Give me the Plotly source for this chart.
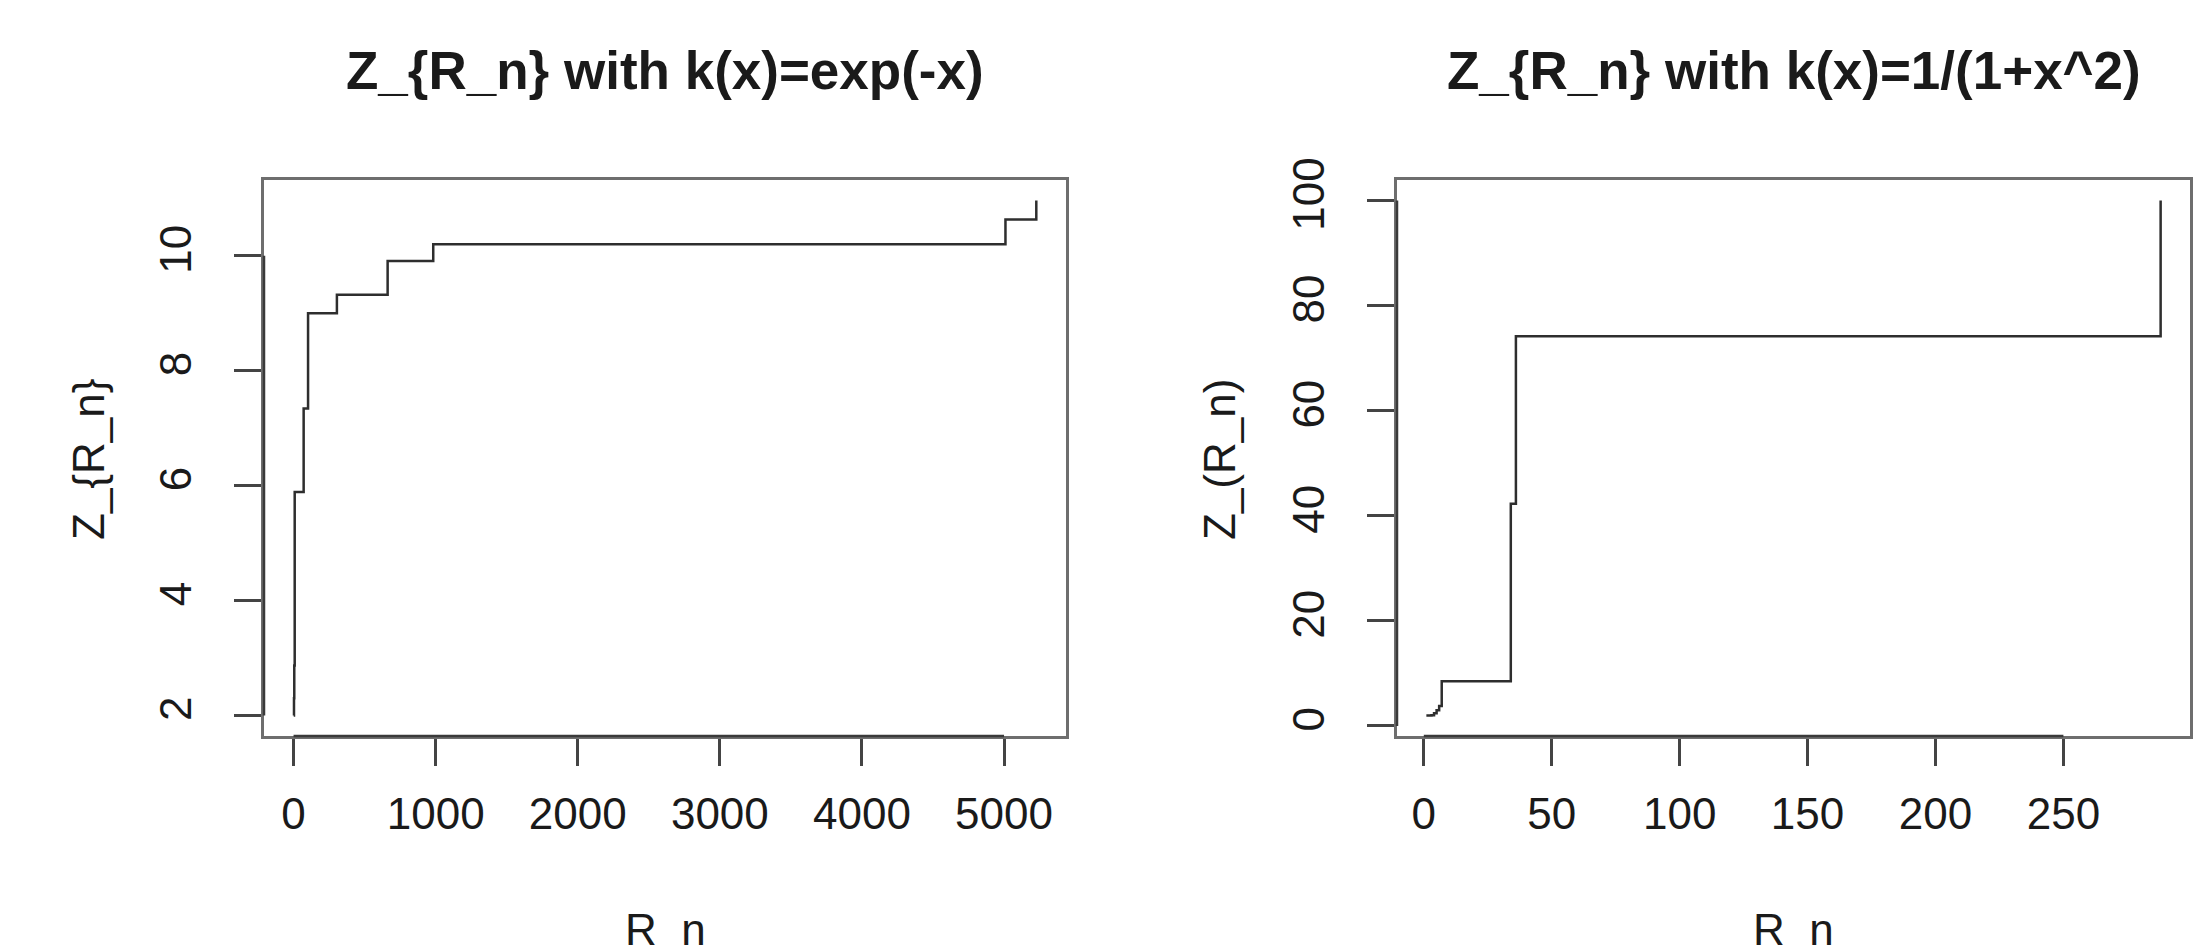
import plotly.graph_objects as go

# ---- data ----
left_x = [1, 3, 5, 8, 71, 102, 305, 662, 983, 5010, 5227]
left_y = [2.0, 2.3, 2.87, 5.89, 7.34, 9.0, 9.32, 9.91, 10.2, 10.63, 10.96]

right_x = [1, 3, 4, 5, 6, 7, 34, 36, 288]
right_y = [2.0, 2.05, 2.4, 3.0, 3.8, 8.5, 42.3, 74.2, 100.0]

left_xticks = [0, 1000, 2000, 3000, 4000, 5000]
left_yticks = [2, 4, 6, 8, 10]
right_xticks = [0, 50, 100, 150, 200, 250]
right_yticks = [0, 20, 40, 60, 80, 100]

left_title = "Z_{R_n} with k(x)=exp(-x)"
right_title = "Z_{R_n} with k(x)=1/(1+x^2)"
left_ylabel = "Z_{R_n}"
right_ylabel = "Z_(R_n)"
xlabel = "R_n"


def rrange(v):
    lo, hi = min(v), max(v)
    d = (hi - lo) * 0.04
    return [lo - d, hi + d]


W, H = 2202, 945
OFF = 8  # page body margin offset


def px(X):
    return (X - OFF) / W


def py(Y):
    return 1 - (Y - OFF) / H


FONT = "Liberation Sans, Arial, Helvetica, sans-serif"
TXT = "#1a1a1a"
BOX = "#6e6e6e"
LINE = "#2e2e2e"

fig = go.Figure()
fig.add_trace(go.Scatter(x=left_x, y=left_y, mode="lines", line_shape="hv",
                         line=dict(color=LINE, width=2.5), xaxis="x", yaxis="y",
                         showlegend=False, hoverinfo="x+y"))
fig.add_trace(go.Scatter(x=right_x, y=right_y, mode="lines", line_shape="hv",
                         line=dict(color=LINE, width=2.5), xaxis="x2", yaxis="y2",
                         showlegend=False, hoverinfo="x+y"))

ydom = [py(736), py(180)]
dom_l = [px(264), px(1066)]
dom_r = [px(1397), px(2190)]

axis_common = dict(showgrid=False, zeroline=False, showline=True, mirror=True,
                   linecolor=BOX, linewidth=2.5, ticks="outside", ticklen=27,
                   tickwidth=2.5, tickcolor="#444", automargin=False,
                   tickfont=dict(family=FONT, size=44, color=TXT))

fig.update_layout(
    width=W, height=H,
    margin=dict(l=0, r=0, t=0, b=0, autoexpand=False),
    paper_bgcolor="white", plot_bgcolor="white",
    xaxis=dict(domain=dom_l, anchor="y", range=rrange(left_x), tickvals=left_xticks,
               ticklabelstandoff=10, **axis_common),
    yaxis=dict(domain=ydom, anchor="x", range=rrange(left_y), tickvals=left_yticks,
               tickangle=-90, ticklabelstandoff=26, **axis_common),
    xaxis2=dict(domain=dom_r, anchor="y2", range=rrange(right_x), tickvals=right_xticks,
                ticklabelstandoff=10, **axis_common),
    yaxis2=dict(domain=ydom, anchor="x2", range=rrange(right_y), tickvals=right_yticks,
                tickangle=-90, ticklabelstandoff=26, **axis_common),
)

# darker axis segments between first and last ticks (as R draws them)
for xr, yr, xt, yt in [("x", "y", left_xticks, left_yticks), ("x2", "y2", right_xticks, right_yticks)]:
    fig.add_shape(type="line", xref=xr, yref=yr + " domain", x0=min(xt), x1=max(xt), y0=0, y1=0,
                  line=dict(color="#3a3a3a", width=2.5))
    fig.add_shape(type="line", xref=xr + " domain", yref=yr, x0=0, x1=0, y0=min(yt), y1=max(yt),
                  line=dict(color="#3a3a3a", width=2.5))

ann = []
for dom, title, ylab, ylab_x in [(dom_l, left_title, left_ylabel, 89), (dom_r, right_title, right_ylabel, 1220)]:
    cx = (dom[0] + dom[1]) / 2
    ann.append(dict(text="<b>%s</b>" % title, x=cx, y=py(71), xref="paper", yref="paper",
                    xanchor="center", yanchor="middle", showarrow=False,
                    font=dict(family=FONT, size=53, color=TXT)))
    ann.append(dict(text=xlabel, x=cx, y=py(903), xref="paper", yref="paper",
                    xanchor="center", yanchor="top", showarrow=False,
                    font=dict(family=FONT, size=44, color=TXT)))
    ann.append(dict(text=ylab, x=px(ylab_x), y=py(460), xref="paper", yref="paper",
                    xanchor="center", yanchor="middle", textangle=-90, showarrow=False,
                    font=dict(family=FONT, size=44, color=TXT)))
fig.update_layout(annotations=ann)

fig.write_html("out.html")
